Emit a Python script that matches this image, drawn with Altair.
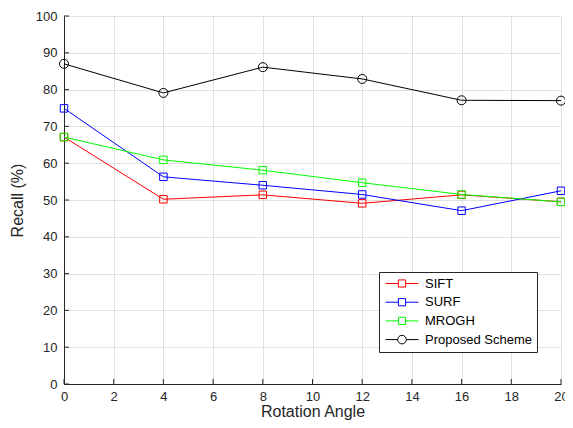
import altair as alt
import pandas as pd

# ---- data ----
angles = [0, 4, 8, 12, 16, 20]
sift = [67.1, 50.2, 51.4, 49.1, 51.4, 49.5]
surf = [74.9, 56.3, 54.0, 51.5, 47.1, 52.5]
mrogh = [67.1, 60.9, 58.1, 54.7, 51.5, 49.5]
proposed = [87.0, 79.1, 86.1, 82.9, 77.1, 77.0]

series_names = ["SIFT", "SURF", "MROGH", "Proposed Scheme"]
series_colors = ["#ff0000", "#0000ff", "#00ff00", "#000000"]
x_ticks = list(range(0, 21, 2))
y_ticks = list(range(0, 101, 10))

rows = []
for name, vals in zip(series_names, [sift, surf, mrogh, proposed]):
    for a, v in zip(angles, vals):
        rows.append({"angle": a, "recall": v, "series": name})
df = pd.DataFrame(rows)
xt_df = pd.DataFrame({"angle": x_ticks})
yt_df = pd.DataFrame({"recall": y_ticks})

FONT = "Liberation Sans"
TXT = "#262626"
W, H = 497, 368

# legend symbols (scale factor = sqrt(100)/2 = 5): short line with marker in the middle
sq = "M-3.3,0H-0.72M0.72,0H3.3M-0.72,-0.72H0.72V0.72H-0.72Z"
ci = "M-3.3,0H-0.86M0.86,0H3.3M-0.86,0A0.86,0.86,0,1,0,0.86,0A0.86,0.86,0,1,0,-0.86,0Z"
shape_paths = [sq, sq, sq, ci]

x_enc = alt.X(
    "angle:Q",
    scale=alt.Scale(domain=[0, 20], nice=False, zero=False),
    axis=alt.Axis(values=x_ticks, title="Rotation Angle", grid=True, ticks=False,
                  labelFlush=False, labelPadding=6, titlePadding=0, format="d"),
)
y_enc = alt.Y(
    "recall:Q",
    scale=alt.Scale(domain=[0, 100], nice=False),
    axis=alt.Axis(values=y_ticks, title="Recall (%)", grid=True, ticks=False,
                  labelPadding=7, titlePadding=10, format="d"),
)
color_scale = alt.Scale(domain=series_names, range=series_colors)

legend = alt.Legend(
    title=None, orient="none", legendX=315, legendY=256,
    strokeColor=TXT, fillColor="white", padding=5, cornerRadius=0,
    labelFont=FONT, labelFontSize=13, labelColor="#000000",
    symbolSize=100, symbolStrokeWidth=1, symbolOffset=11.5, labelOffset=16.5,
    rowPadding=4.7, symbolFillColor="transparent",
)

legend_layer = alt.Chart(df).transform_filter("false").mark_point(
    filled=False, strokeWidth=1, opacity=1
).encode(
    x=x_enc, y=y_enc,
    color=alt.Color("series:N", scale=color_scale, legend=legend),
    shape=alt.Shape("series:N", scale=alt.Scale(domain=series_names, range=shape_paths),
                    legend=legend),
)

lines = alt.Chart(df).mark_line(strokeWidth=1).encode(
    x=x_enc, y=y_enc,
    color=alt.Color("series:N", scale=color_scale, legend=None),
)

squares = alt.Chart(df).transform_filter(
    "datum.series != 'Proposed Scheme'"
).mark_point(shape="square", filled=False, size=56, strokeWidth=1, opacity=1).encode(
    x=x_enc, y=y_enc,
    color=alt.Color("series:N", scale=color_scale, legend=None),
)

circles = alt.Chart(df).transform_filter(
    "datum.series == 'Proposed Scheme'"
).mark_point(shape="circle", filled=False, size=81, strokeWidth=1, opacity=1).encode(
    x=x_enc, y=y_enc,
    color=alt.Color("series:N", scale=color_scale, legend=None),
)

xticks = alt.Chart(xt_df).mark_rule(color=TXT, strokeWidth=1).encode(
    x=x_enc, y=alt.value(H), y2=alt.value(H - 5)
)
yticks = alt.Chart(yt_df).mark_rule(color=TXT, strokeWidth=1).encode(
    y=y_enc, x=alt.value(0), x2=alt.value(5)
)

chart = alt.layer(legend_layer, xticks, yticks, lines, squares, circles).properties(
    width=W, height=H,
    autosize=alt.AutoSizeParams(type="none"),
    padding={"left": 56, "top": 8, "right": 4, "bottom": 36},
).configure_view(stroke=None).configure_axis(
    labelFont=FONT, labelFontSize=13, labelColor=TXT,
    titleFont=FONT, titleFontSize=16, titleFontWeight="normal", titleColor=TXT,
    gridColor="#e0e0e0", gridWidth=1, domainColor=TXT, domainWidth=1,
)

chart.save("out.html", embed_options={"renderer": "svg", "actions": False})
